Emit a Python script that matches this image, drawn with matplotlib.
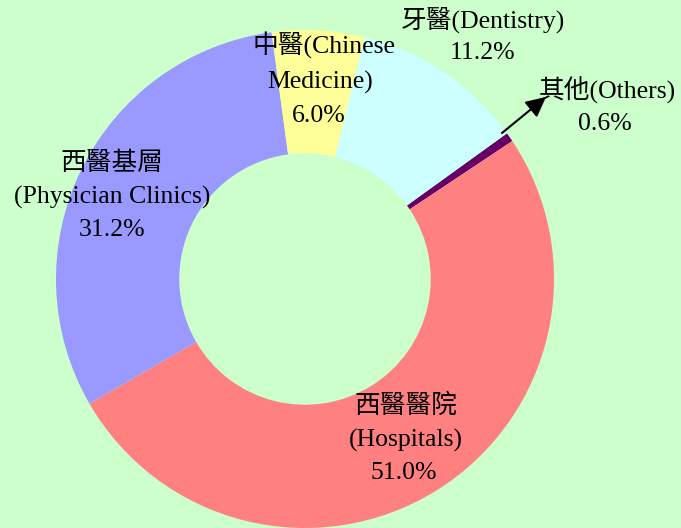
import matplotlib
matplotlib.use("Agg")
import matplotlib.pyplot as plt

# Data (clockwise order starting from "Others")
categories_zh = ["其他", "西醫醫院", "西醫基層", "中醫", "牙醫"]
categories_en = ["Others", "Hospitals", "Physician Clinics", "Chinese Medicine", "Dentistry"]
shares = [0.6, 51.0, 31.2, 6.0, 11.2]
colors = ["#660066", "#FF8080", "#9999FF", "#FFFF99", "#CCFFFF"]

W, H = 681, 528
BG = "#CCFFCC"
fig = plt.figure(figsize=(W / 100, H / 100), dpi=100, facecolor=BG)
ax = fig.add_axes([0, 0, 1, 1])
ax.set_facecolor(BG)

cx, cy, R = 305, H - 279, 249
ax.pie(shares, colors=colors, startangle=35.8, counterclock=False,
       center=(cx, cy), radius=R,
       wedgeprops=dict(width=R * 0.495, linewidth=0))
ax.set_xlim(0, W)
ax.set_ylim(0, H)
ax.set_aspect("equal")
ax.axis("off")

fam = ["Liberation Serif", "Noto Sans CJK TC"]
fs = 18.5

def put(x, y, s):
    ax.text(x, H - y, s, ha="center", va="center", fontsize=fs,
            family=fam, fontweight="light", color="black")

pct = [f"{v:.1f}%" for v in shares]

# Dentistry
put(483, 20, f"{categories_zh[4]}({categories_en[4]})")
put(482, 53, pct[4])
# Others
put(607, 90, f"{categories_zh[0]}({categories_en[0]})")
put(605, 124, pct[0])
ax.annotate("", xy=(546, H - 97), xytext=(502, H - 133),
            arrowprops=dict(arrowstyle="-|>", color="black", lw=1.5,
                            mutation_scale=30, shrinkA=0, shrinkB=0))
# Chinese medicine
put(324, 45, f"{categories_zh[3]}(Chinese")
put(320, 82, "Medicine)")
put(319, 116, pct[3])
# Physician clinics
put(112, 163, categories_zh[2])
put(112, 197, f"({categories_en[2]})")
put(112, 230, pct[2])
# Hospitals
put(406, 406, categories_zh[1])
put(406, 440, f"({categories_en[1]})")
put(404, 473, pct[1])

fig.savefig("out.png", dpi=100, facecolor=BG)
